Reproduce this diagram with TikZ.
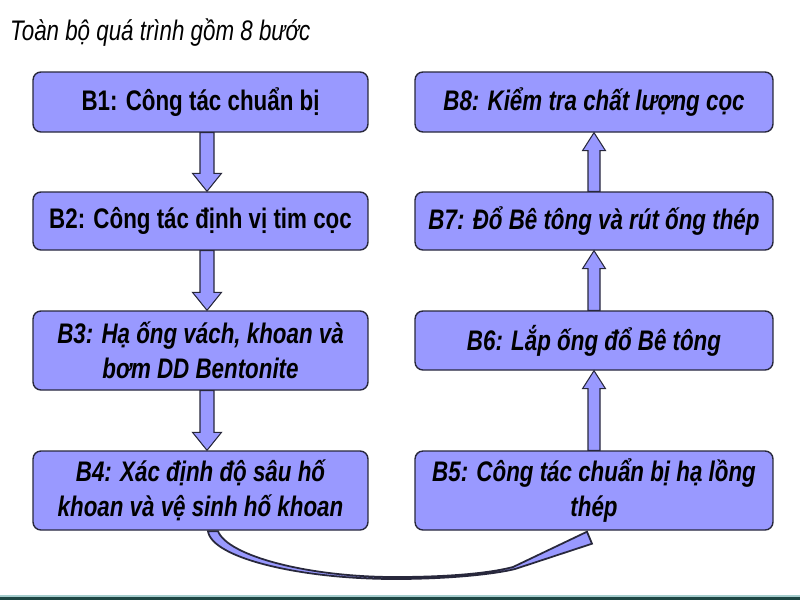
\documentclass[tikz,border=0pt]{standalone}
\usepackage{fontspec}
\setmainfont{Liberation Sans}[FakeStretch=0.79]
\usetikzlibrary{calc}
\definecolor{boxfill}{RGB}{153,153,255}
\definecolor{boxline}{RGB}{40,40,60}
\definecolor{stripdark}{RGB}{30,70,68}
\definecolor{striplight}{RGB}{165,205,205}
\tikzset{
  stepbox/.style={draw=boxline, fill=boxfill, line width=0.8pt, rounded corners=4.5pt,
    align=center, inner sep=0pt, font=\fontsize{16.1}{19.9}\selectfont\bfseries},
  leftbox/.style={stepbox, minimum width=6.7cm},
  rightbox/.style={stepbox, minimum width=7.16cm, font=\fontsize{16.1}{19.9}\selectfont\bfseries\itshape},
  blockarr/.style={draw=boxline, fill=boxfill, line width=0.6pt, line join=miter},
}
\begin{document}
\begin{tikzpicture}[x=0.02cm, y=-0.02cm]
\useasboundingbox (0,0) rectangle (800,600);
\fill[white] (0,0) rectangle (800,600);
\fill[striplight] (0,595) rectangle (800,597);
\fill[stripdark] (0,597) rectangle (800,600);

\node[anchor=base west, font=\fontsize{16.1}{19.9}\selectfont\itshape] (title) at (4,40) {Toàn bộ quá trình gồm 8 bước};

\node[leftbox, minimum height=1.2cm] (b1) at (200.5,102) {B1: Công tác chuẩn bị};
\node[leftbox, minimum height=1.16cm] (b2) at (200.5,221) {B2: Công tác định vị tim cọc};
\node[leftbox, minimum height=1.58cm, font=\fontsize{16.1}{19.9}\selectfont\bfseries\itshape] (b3) at (200.5,350.5) {B3: Hạ ống vách, khoan và\\bơm DD Bentonite};
\node[leftbox, minimum height=1.58cm, font=\fontsize{16.1}{19.9}\selectfont\bfseries\itshape] (b4) at (200.5,490.5) {B4: Xác định độ sâu hố\\khoan và vệ sinh hố khoan};
\node[rightbox, minimum height=1.58cm] (b5) at (594,490.5) {B5: Công tác chuẩn bị hạ lồng\\thép};
\node[rightbox, minimum height=1.18cm] (b6) at (594,340.5) {B6: Lắp ống đổ Bê tông};
\node[rightbox, minimum height=1.16cm] (b7) at (594,221) {B7: Đổ Bê tông và rút ống thép};
\node[rightbox, minimum height=1.2cm] (b8) at (594,102) {B8: Kiểm tra chất lượng cọc};

% down arrows, left column
\draw[blockarr] ($(b1.south)+(-0.5,0)$) -- ($(b2.north)+(-0.5,-18)$) -- ++(-7.5,0) -- ($(b2.north)+(6.5,0)$) -- ++(14.5,-18) -- ++(-7.5,0) -- ($(b1.south)+(13.5,0)$) -- cycle;
\draw[blockarr] ($(b2.south)+(-0.5,0)$) -- ($(b3.north)+(-0.5,-18)$) -- ++(-7.5,0) -- ($(b3.north)+(6.5,0)$) -- ++(14.5,-18) -- ++(-7.5,0) -- ($(b2.south)+(13.5,0)$) -- cycle;
\draw[blockarr] ($(b3.south)+(-0.5,0)$) -- ($(b4.north)+(-0.5,-18)$) -- ++(-7.5,0) -- ($(b4.north)+(6.5,0)$) -- ++(14.5,-18) -- ++(-7.5,0) -- ($(b3.south)+(13.5,0)$) -- cycle;

% up arrows, right column
\draw[blockarr] ($(b5.north)+(-6,0)$) -- ($(b6.south)+(-6,18)$) -- ++(-5.5,0) -- (b6.south) -- ++(11.5,18) -- ++(-5.5,0) -- ($(b5.north)+(6,0)$) -- cycle;
\draw[blockarr] ($(b6.north)+(-6,0)$) -- ($(b7.south)+(-6,18)$) -- ++(-5.5,0) -- (b7.south) -- ++(11.5,18) -- ++(-5.5,0) -- ($(b6.north)+(6,0)$) -- cycle;
\draw[blockarr] ($(b7.north)+(-6,0)$) -- ($(b8.south)+(-6,18)$) -- ++(-5.5,0) -- (b8.south) -- ++(11.5,18) -- ++(-5.5,0) -- ($(b7.north)+(6,0)$) -- cycle;

% curved arrow B4 -> B5
\draw[blockarr, line width=1pt] ($(b4.south)+(7.5,0.5)$) .. controls (212,558) and (300,579) .. (395,579)
  .. controls (450,579) and (495,574) .. (515,569) -- ($(b5.south)+(-2,13)$) -- ($(b5.south)+(-7,1)$)
  -- (513,567) .. controls (490,573) and (450,577) .. (395,577)
  .. controls (308,577) and (228,556) .. ($(b4.south)+(17.5,0.5)$) -- cycle;

\end{tikzpicture}
\end{document}
